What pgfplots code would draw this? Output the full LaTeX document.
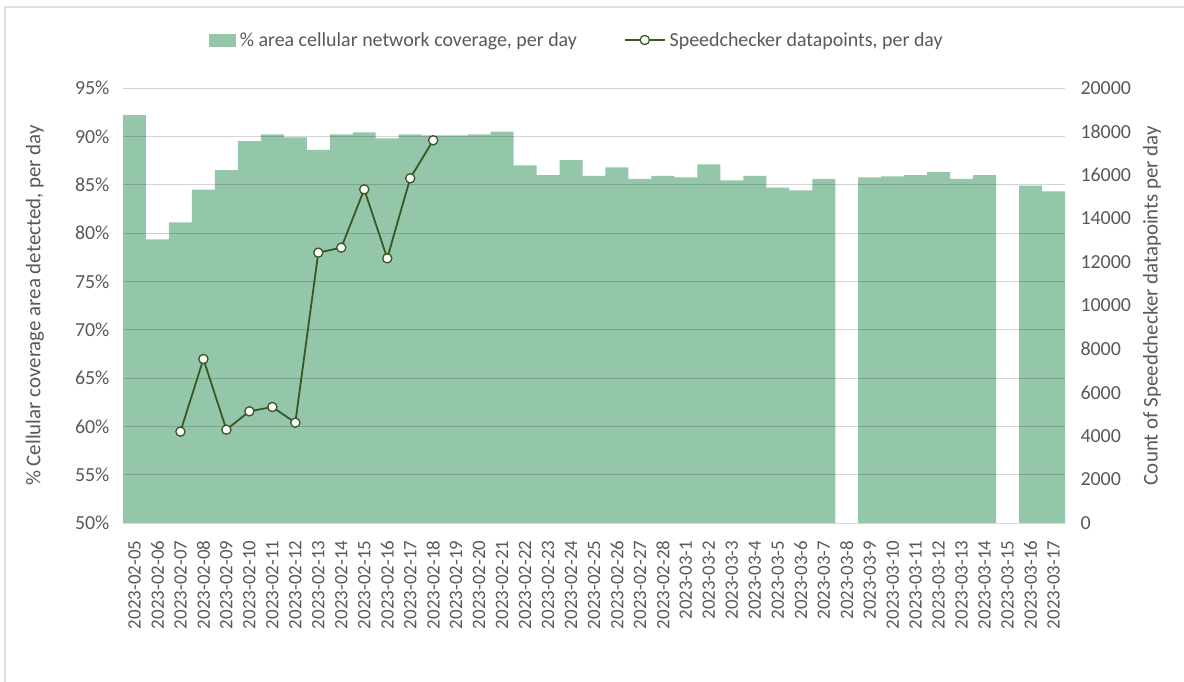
\documentclass[border=0pt]{standalone}
\usepackage{pgfplots}
\pgfplotsset{compat=1.18}
\usepackage{fontspec}
\setmainfont{Carlito}
\definecolor{barg}{RGB}{148,199,169}
\definecolor{lineg}{RGB}{56,87,35}
\definecolor{txt}{RGB}{89,89,89}
\begin{document}
\begin{tikzpicture}
\useasboundingbox (0bp,-682bp) rectangle (1184bp,0bp);
\fill[white] (0bp,-682bp) rectangle (1184bp,0bp);
\draw[black!12,line width=1.5bp] (5bp,-682bp) -- (5bp,-7bp) -- (1184bp,-7bp);
\begin{axis}[
  at={(123bp,-523bp)}, anchor=south west,
  width=942bp, height=435bp, scale only axis,
  xmin=-0.5, xmax=40.5, ymin=50, ymax=95,
  axis on top,
  axis y line*=left, axis x line*=bottom,
  y axis line style={draw=none},
  x axis line style={draw=black!15,line width=1bp},
  tick style={draw=none},
  ytick={50,55,...,95},
  yticklabels={50\%,55\%,60\%,65\%,70\%,75\%,80\%,85\%,90\%,95\%},
  ymajorgrids, grid style={black,opacity=0.17,line width=1bp},
  xtick={0,...,40},
  xticklabels={2023-02-05,2023-02-06,2023-02-07,2023-02-08,2023-02-09,2023-02-10,2023-02-11,2023-02-12,2023-02-13,2023-02-14,2023-02-15,2023-02-16,2023-02-17,2023-02-18,2023-02-19,2023-02-20,2023-02-21,2023-02-22,2023-02-23,2023-02-24,2023-02-25,2023-02-26,2023-02-27,2023-02-28,2023-03-1,2023-03-2,2023-03-3,2023-03-4,2023-03-5,2023-03-6,2023-03-7,2023-03-8,2023-03-9,2023-03-10,2023-03-11,2023-03-12,2023-03-13,2023-03-14,2023-03-15,2023-03-16,2023-03-17},
  x tick label style={rotate=90, anchor=east, font=\fontsize{19}{19}\selectfont, text=txt},
  xticklabel shift=10bp,
  y tick label style={font=\fontsize{20}{20}\selectfont, text=txt},
  yticklabel shift=10bp,
  ylabel={\% Cellular coverage area detected, per day},
  ylabel style={font=\fontsize{21}{21}\selectfont, text=txt, at={(axis description cs:-0.0934,0.5)}, rotate=0, anchor=center},
  ybar, bar width=1, bar shift=0,
]
\addplot[fill=barg, draw=none] coordinates {
(0,92.2) (1,79.35) (2,81.1) (3,84.5) (4,86.5) (5,89.5) (6,90.2) (7,89.9) (8,88.6) (9,90.2)
(10,90.4) (11,89.8) (12,90.2) (13,90.1) (14,90.1) (15,90.2) (16,90.5) (17,87.0) (18,86.0) (19,87.55)
(20,85.9) (21,86.8) (22,85.6) (23,85.9) (24,85.75) (25,87.1) (26,85.45) (27,85.9) (28,84.7) (29,84.4)
(30,85.6) (32,85.75) (33,85.85) (34,86.0) (35,86.3) (36,85.6) (37,86.0) (39,84.9) (40,84.3)
};
\end{axis}
\begin{axis}[
  at={(123bp,-523bp)}, anchor=south west,
  width=942bp, height=435bp, scale only axis,
  xmin=-0.5, xmax=40.5, ymin=0, ymax=20000,
  axis y line*=right, axis x line=none,
  y axis line style={draw=none},
  tick style={draw=none},
  ytick={0,2000,...,20000},
  scaled y ticks=false,
  /pgf/number format/1000 sep={},
  /pgf/number format/assume math mode=true,
  y tick label style={font=\fontsize{20}{20}\selectfont, text=txt, anchor=west},
  yticklabel shift=12bp,
  ylabel={Count of Speedchecker datapoints per day},
  ylabel style={font=\fontsize{21}{21}\selectfont, text=txt, at={(axis description cs:1.0924,0.5)}, rotate=0, anchor=center},
  legend style={at={(axis description cs:0.482,1)}, anchor=center, yshift=48bp, draw=none, fill=none, legend columns=2,
    font=\fontsize{20}{20}\selectfont, text=txt, /tikz/every even column/.append style={column sep=45bp},
    /tikz/every odd column/.append style={column sep=2bp}},
]
\addlegendimage{legend image code/.code={\fill[barg] (0bp,-6bp) rectangle (26bp,6bp);}}
\addlegendentry{\% area cellular network coverage, per day}
\addplot[lineg, line width=1.8bp, mark=*, mark size=4.6bp, mark options={fill=white, draw=lineg, line width=1.3bp},
  legend image code/.code={\draw[lineg, line width=1.8bp] (0bp,0bp) -- (40bp,0bp); \draw[lineg, line width=1.3bp, fill=white] (20bp,0bp) circle (4.6bp);}] coordinates {
(2,4200) (3,7540) (4,4290) (5,5135) (6,5333) (7,4613) (8,12430) (9,12660) (10,15340) (11,12170) (12,15850) (13,17595)
};
\addlegendentry{Speedchecker datapoints, per day}
\end{axis}
\end{tikzpicture}
\end{document}
